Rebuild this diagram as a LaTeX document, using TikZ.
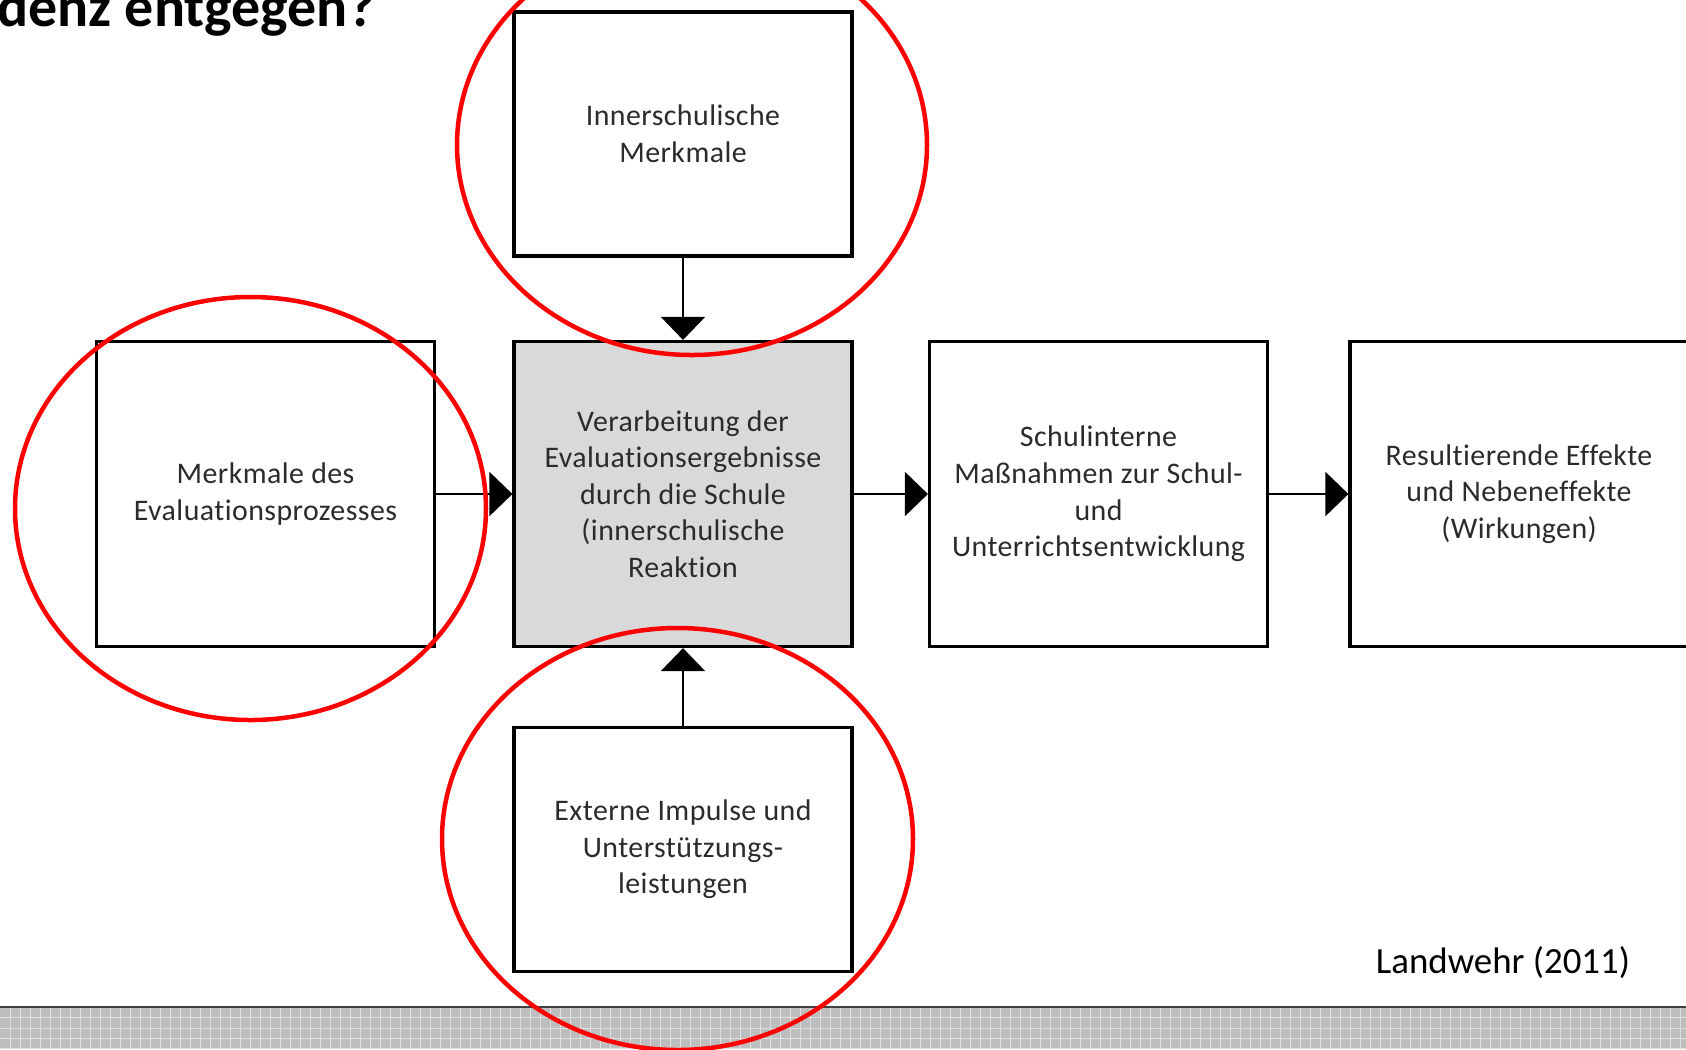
\documentclass[tikz,border=0pt]{standalone}
\usepackage{fontspec}
\setmainfont{Carlito}[Ligatures={NoCommon}]
\usepackage{tikz}
\usetikzlibrary{arrows.meta,positioning,shapes.geometric}
\usepackage{xcolor}
\definecolor{lwText}{HTML}{2B2B2B}
\definecolor{lwFill}{HTML}{D9D9D9}
\definecolor{lwRing}{HTML}{FF0000}
\definecolor{lwStrip}{HTML}{BEBEBE}
\definecolor{lwGrid}{HTML}{E0E0E0}
\tikzset{
    % boxes of the model
    stage/.style={rectangle, draw=black, fill=white, line width=0.065cm, minimum width=6.76cm, minimum height=6.1cm, inner sep=0pt, align=center, text=lwText, font=\fontsize{17}{20.8}\selectfont\addfontfeatures{LetterSpace=1.5}},
    sidebox/.style={stage, minimum height=4.88cm},
    % connectors and highlights
    flow/.style={-{Triangle[length=0.46cm,width=0.88cm]}, line width=0.04cm, black},
    ring/.style={draw=lwRing, line width=0.09cm}
}

\begin{document}
\begin{tikzpicture}[x=0.02cm, y=-0.02cm]

    \useasboundingbox (0,0) rectangle (1686,1049);
    \clip (0,0) rectangle (1686,1049);
    \fill[white] (0,0) rectangle (1686,1049);

    % Title (cut off by the slide)
    \node[anchor=base west, inner sep=0pt, font=\fontsize{33}{39}\selectfont\bfseries] (title) at (-3,26) {denz entgegen?};

    % Model boxes
    \node[sidebox] (inner) at (683,134) {Innerschulische\\Merkmale};
    \node[stage] (process) at (265.5,494) {Merkmale des\\Evaluationsprozesses};
    \node[stage, fill=lwFill] (hub) at (683,494) {Verarbeitung der\\Evaluationsergebnisse\\durch die Schule\\(innerschulische\\Reaktion};
    \node[stage] (measures) at (1098.5,494) {Schulinterne\\Maßnahmen zur Schul-\\und\\Unterrichtsentwicklung};
    \node[stage] (effects) at (1519,494) {Resultierende Effekte\\und Nebeneffekte\\(Wirkungen)};
    \node[sidebox] (extern) at (683,849.5) {Externe Impulse und\\Unterstützungs-\\leistungen};

    % Source
    \node[anchor=base, inner sep=0pt, font=\fontsize{21}{25}\selectfont] (source) at (1503,973) {Landwehr (2011)};

    % Flow arrows
    \draw[flow] (inner) -- (hub);
    \draw[flow] (process) -- (hub);
    \draw[flow] (extern) -- (hub);
    \draw[flow] (hub) -- (measures);
    \draw[flow] (measures) -- (effects);

    % Red highlights
    \draw[ring] (692,145) ellipse [x radius=235, y radius=210];
    \draw[ring] (250.5,508.5) ellipse [x radius=235.5, y radius=211.5];

    % Footer strip
    \fill[lwStrip] (0,1007) rectangle (1686,1049);
    \foreach \gx in {10,20,...,1680}
        \draw[lwGrid, line width=0.02cm] (\gx,1007) -- (\gx,1049);
    \foreach \gy in {1017,1028,1038,1048}
        \draw[lwGrid, line width=0.02cm] (0,\gy) -- (1686,\gy);
    \draw[black!75, line width=0.04cm] (0,1007) -- (1686,1007);
    \draw[ring] (677.5,839) ellipse [x radius=235.5, y radius=211];

\end{tikzpicture}
\end{document}
